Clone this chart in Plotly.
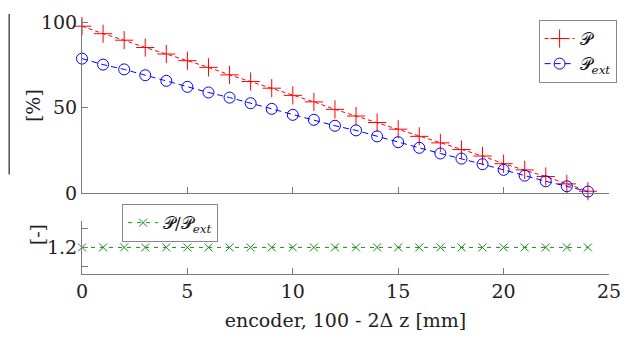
import plotly.graph_objects as go

encoder = list(range(25))
P = [97.8, 93.4, 89.6, 85.3, 81.5, 77.6, 73.7, 69.3, 65.4, 61.5, 57.3, 53.5,
     49.1, 45.2, 41.4, 37.5, 33.3, 29.5, 25.6, 21.8, 17.3, 13.7, 9.8, 5.5, 1.2]
P_ext = [78.8, 75.3, 72.5, 69.1, 65.8, 62.3, 59.0, 56.0, 52.7, 49.4, 45.9, 43.0,
         39.5, 36.8, 33.3, 29.9, 26.6, 23.3, 20.3, 17.0, 13.7, 10.3, 7.0, 4.1, 1.0]
ratio = [1.2] * 25

top_yticks = [0, 50, 100]
bot_yticks = [1.2]
bot_minor_ticks = [1.1, 1.3]
xticks = [0, 5, 10, 15, 20, 25]

FONT = "DejaVu Serif"
AX = "#7a7a7a"
TXT = "#222"
W, H = 632, 342
L, R, T, B = 82, 11, 15, 68
pw, ph = W - L - R, H - T - B

def px(x):
    return (x - L) / pw

def py(y):
    return (H - B - y) / ph

fig = go.Figure()
fig.add_trace(go.Scatter(x=encoder, y=P, mode="lines+markers", name="𝒫",
                         line=dict(color="#ff0000", width=1, dash="4px,3px"),
                         marker=dict(symbol="cross-thin-open", size=13,
                                     line=dict(color="#ff0000", width=1)),
                         cliponaxis=False, xaxis="x", yaxis="y", legend="legend"))
fig.add_trace(go.Scatter(x=encoder, y=P_ext, mode="lines+markers",
                         name="𝒫<sub><i>ext</i></sub>",
                         line=dict(color="#0000ff", width=1, dash="6px,4px"),
                         marker=dict(symbol="circle-open", size=11,
                                     line=dict(color="#0000ff", width=1)),
                         cliponaxis=False, xaxis="x", yaxis="y", legend="legend"))
fig.add_trace(go.Scatter(x=encoder, y=ratio, mode="lines+markers",
                         name="𝒫/𝒫<sub><i>ext</i></sub>",
                         line=dict(color="#1a8a1a", width=1, dash="4px,5px"),
                         marker=dict(symbol="x-thin-open", size=8,
                                     line=dict(color="#1a8a1a", width=1)),
                         cliponaxis=False, xaxis="x2", yaxis="y2", legend="legend2"))

axis_common = dict(showline=True, linecolor=AX, linewidth=1, ticks="inside",
                   tickcolor=AX, ticklen=6, showgrid=False, zeroline=False,
                   tickfont=dict(family=FONT, size=19, color=TXT))

fig.update_layout(
    width=W, height=H, margin=dict(l=L, r=R, t=T, b=B),
    paper_bgcolor="white", plot_bgcolor="white",
    font=dict(family=FONT, color=TXT),
    xaxis=dict(domain=[0, 1], range=[0, 25], tickvals=xticks, showticklabels=False,
               anchor="y", **axis_common),
    yaxis=dict(domain=[py(192), 1], range=[0, 102], tickvals=top_yticks,
               anchor="x", **axis_common),
    xaxis2=dict(domain=[0, 1], range=[0, 25], tickvals=xticks, anchor="y2",
                matches="x",
                title=dict(text="encoder, 100 - 2Δ z [mm]", standoff=12,
                           font=dict(family=FONT, size=19, color=TXT)),
                **axis_common),
    yaxis2=dict(domain=[0, py(220)], range=[1.062, 1.338], tickvals=bot_yticks,
                minor=dict(tickvals=bot_minor_ticks, ticks="inside", ticklen=6,
                           tickcolor=AX, showgrid=False),
                anchor="x2", **axis_common),
    legend=dict(x=px(549), y=py(16), xanchor="left", yanchor="top",
                bgcolor="white", bordercolor="#888", borderwidth=1,
                font=dict(family=FONT, size=17, color="#111"),
                itemwidth=30, tracegroupgap=0),
    legend2=dict(x=px(123), y=py(203), xanchor="left", yanchor="top",
                 bgcolor="white", bordercolor="#888", borderwidth=1,
                 font=dict(family=FONT, size=17, color="#111"),
                 itemwidth=30),
    showlegend=True,
)

fig.add_shape(type="line", xref="paper", yref="paper",
              x0=px(7.5), x1=px(7.5), y0=py(10), y1=py(173),
              line=dict(color=TXT, width=1.2))
fig.add_annotation(text="[%]", xref="paper", yref="paper", x=px(18), y=py(103),
                   showarrow=False, textangle=-90,
                   font=dict(family=FONT, size=19, color=TXT))
fig.add_annotation(text="[-]", xref="paper", yref="paper", x=px(23), y=py(247),
                   showarrow=False, textangle=-90,
                   font=dict(family=FONT, size=19, color=TXT))

fig.write_html("out.html")
